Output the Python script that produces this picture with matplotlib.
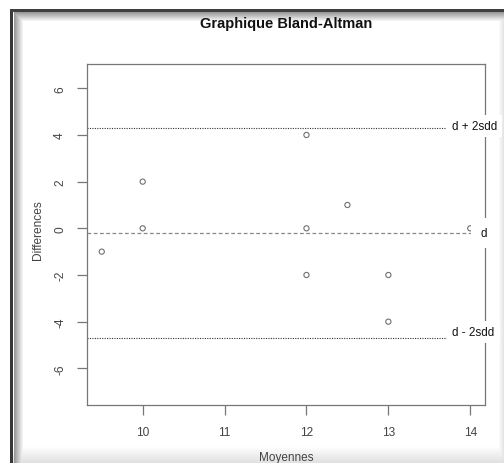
import matplotlib
matplotlib.use("Agg")
import matplotlib.pyplot as plt
import numpy as np

plt.rcParams['font.family'] = ['Liberation Sans', 'DejaVu Sans']

# data
moyennes = [9.5, 10, 10, 12, 12, 12, 12.5, 13, 13, 14]
differences = [-1, 2, 0, 4, 0, -2, 1, -2, -4, 0]
x_ticks = [10, 11, 12, 13, 14]
y_ticks = [-6, -4, -2, 0, 2, 4, 6]

d = np.mean(differences)
sdd = np.std(differences, ddof=1)
upper = d + 2 * sdd
lower = d - 2 * sdd

W, H = 504, 464
fig = plt.figure(figsize=(W / 100, H / 100), dpi=100)
fig.patch.set_facecolor("white")

# window frame / shadow of the screenshot
bg = np.ones((H, W, 3))
for i in range(10):
    g = 0.6 + 0.4 * i / 9
    bg[14 + i:, 14 + i, :] = np.minimum(bg[14 + i:, 14 + i, :], g)
    bg[13 + i, 14 + i:, :] = np.minimum(bg[13 + i, 14 + i:, :], g)
bg[10:, 10:13, :] = 0.22
bg[10:13, 10:, :] = 0.25
for i in range(17):
    g = 1.0 - 0.12 * i / 16
    bg[447 + i, 13:, :] = np.minimum(bg[447 + i, 13:, :], g)
for i in range(6):
    g = 1.0 - 0.1 * i / 5
    bg[13:, 498 + i, :] = np.minimum(bg[13:, 498 + i, :], g)
fig.figimage(bg, 0, 0, origin="upper", zorder=-1)

ax = fig.add_axes([87 / W, 1 - 406 / H, 398 / W, 341 / H])
ax.set_facecolor("white")

ax.scatter(moyennes, differences, s=14, facecolors="none",
           edgecolors="#707070", linewidths=0.8, zorder=3)

ax.axhline(upper, color="#333333", lw=0.8, ls=(0, (1, 1.2)), zorder=2)
ax.axhline(d, color="#888888", lw=0.9, ls=(0, (3, 2)), zorder=2)
ax.axhline(lower, color="#333333", lw=0.8, ls=(0, (1, 1.2)), zorder=2)

box = dict(boxstyle="square,pad=0.45", fc="white", ec="none")
ax.text(14.05, upper + 0.08, "d + 2sdd", fontsize=8.4, ha="center", va="center",
        color="#111111", bbox=box, clip_on=False, zorder=5)
ax.text(14.16, d, "d", fontsize=8.4, ha="center", va="center",
        color="#111111", bbox=dict(boxstyle="square,pad=0.8", fc="white", ec="none"),
        clip_on=False, zorder=5)
ax.text(14.04, lower + 0.25, "d - 2sdd", fontsize=8.4, ha="center", va="center",
        color="#111111", bbox=box, clip_on=False, zorder=5)

ax.set_xlim(9.32, 14.18)
ax.set_ylim(-7.57, 7.04)
ax.set_xticks(x_ticks)
ax.set_yticks(y_ticks)
ax.set_yticklabels([str(v) for v in y_ticks], rotation=90, va="center")
ax.tick_params(length=7, width=0.9, color="#777777", labelcolor="#444444",
               labelsize=8.6, pad=8)
for s in ax.spines.values():
    s.set_color("#777777")
    s.set_linewidth(0.9)

fig.text(286 / W, 1 - 24 / H, "Graphique Bland-Altman", fontsize=10.5,
         fontweight="bold", ha="center", va="center", color="#111111")
fig.text(286 / W, 1 - 458 / H, "Moyennes", fontsize=8.5, ha="center",
         va="center", color="#444444")
fig.text(38 / W, 1 - 230 / H, "Differences", fontsize=8.6, rotation=90,
         ha="center", va="center", color="#444444")

fig.savefig("out.png", dpi=100)
